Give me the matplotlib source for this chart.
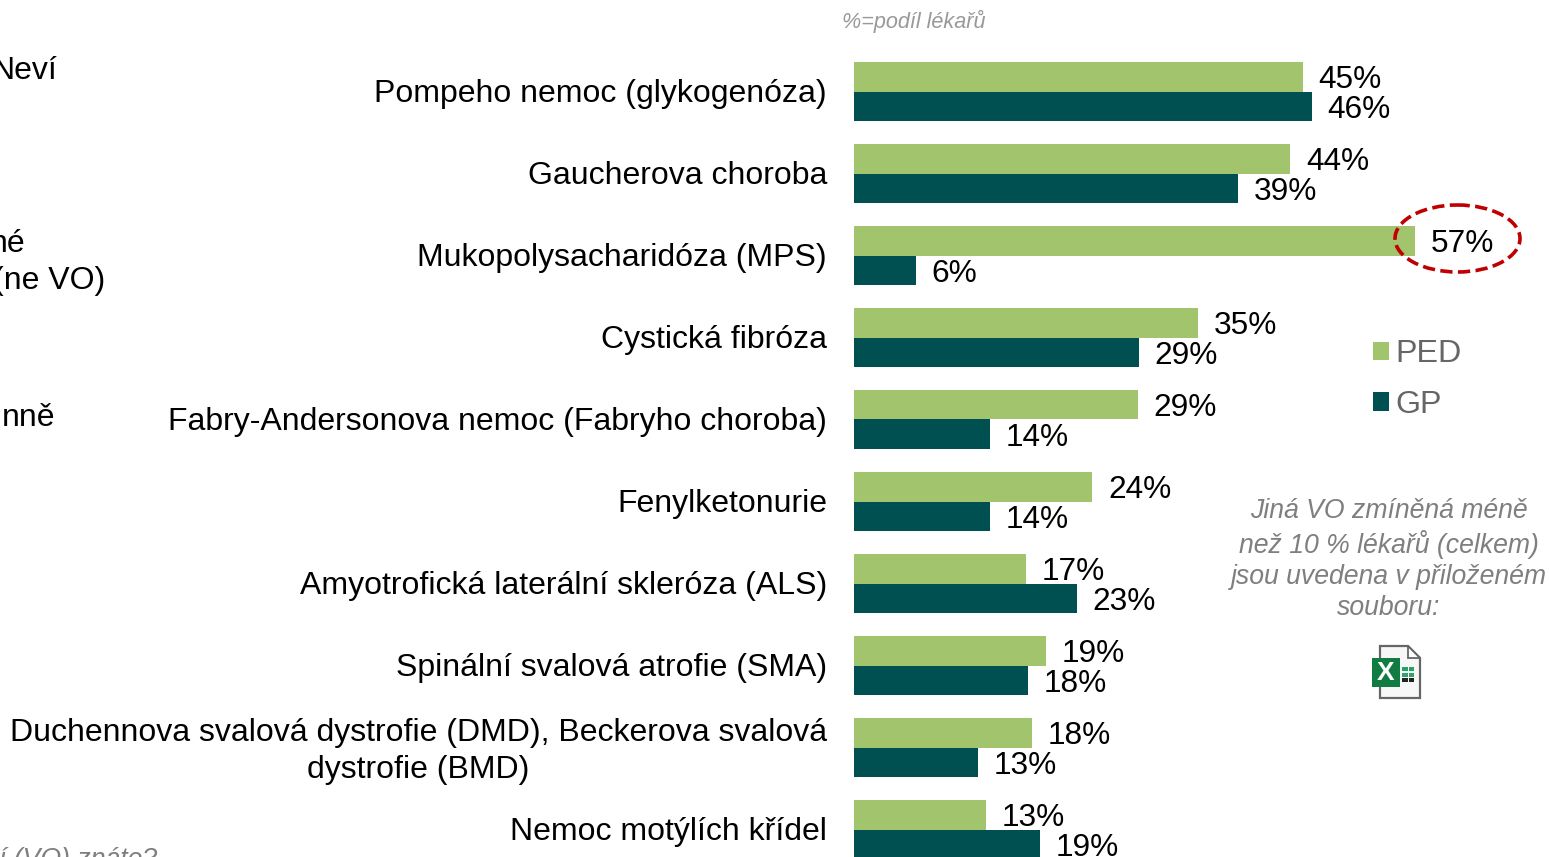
import matplotlib
matplotlib.use("Agg")
import matplotlib.pyplot as plt
from matplotlib.patches import Ellipse, Polygon, Rectangle
from matplotlib.transforms import ScaledTranslation
import numpy as np

plt.rcParams['font.family'] = ['Liberation Sans', 'DejaVu Sans']

categories = [
    "Pompeho nemoc (glykogenóza)",
    "Gaucherova choroba",
    "Mukopolysacharidóza (MPS)",
    "Cystická fibróza",
    "Fabry-Andersonova nemoc (Fabryho choroba)",
    "Fenylketonurie",
    "Amyotrofická laterální skleróza (ALS)",
    "Spinální svalová atrofie (SMA)",
    "Duchennova svalová dystrofie (DMD), Beckerova svalová\ndystrofie (BMD)",
    "Nemoc motýlích křídel",
]
ped_values = [45.6, 44.3, 57.0, 34.9, 28.8, 24.2, 17.5, 19.5, 18.1, 13.4]
gp_values = [46.5, 39.0, 6.3, 28.9, 13.8, 13.8, 22.6, 17.7, 12.6, 18.9]
ped_labels = ["45%", "44%", "57%", "35%", "29%", "24%", "17%", "19%", "18%", "13%"]
gp_labels = ["46%", "39%", "6%", "29%", "14%", "14%", "23%", "18%", "13%", "19%"]

W, H = 1549, 857
PED_C, GP_C = "#A2C46C", "#005052"
fig = plt.figure(figsize=(W / 100, H / 100), dpi=100, facecolor="white")

ax = fig.add_axes([854 / W, 0, (W - 854) / W, 1])
ax.set_xlim(0, (W - 854) / 9.85)
ax.set_ylim((H - 91.5) / 82, -91.5 / 82)
y = np.arange(len(categories))
h = 0.36
b1 = ax.barh(y - h / 2, ped_values, height=h, color=PED_C, label="PED")
b2 = ax.barh(y + h / 2, gp_values, height=h, color=GP_C, label="GP")
for bars, labs in ((b1, ped_labels), (b2, gp_labels)):
    for r, t in zip(bars, labs):
        ax.annotate(t, (r.get_width(), r.get_y() + r.get_height() / 2),
                    xytext=(11.2, -2.7), textcoords="offset points",
                    va="center", ha="left", fontsize=22.8, color="black",
                    annotation_clip=False)
ax.set_yticks(y, categories, fontsize=23.0, color="black", ha="right",
              multialignment="center", linespacing=1.3)
ax.tick_params(axis="y", length=0, pad=19.4)
ax.set_xticks([])
for s in ax.spines.values():
    s.set_visible(False)
ax.patch.set_alpha(0)
for i, lab in enumerate(ax.get_yticklabels()):
    up = 2.5 if "\n" in lab.get_text() else 1.0
    lab.set_transform(lab.get_transform() + ScaledTranslation(0, up / 100, fig.dpi_scale_trans))

leg = fig.legend(handles=[b1, b2], labels=["PED", "GP"], loc="center left",
                 bbox_to_anchor=(1373 / W, 1 - 379.5 / H), frameon=False,
                 fontsize=23.2, labelcolor="#666666", borderpad=0, borderaxespad=0,
                 handlelength=0.496, handleheight=0.496, handletextpad=0.2,
                 labelspacing=0.64)

# Pixel-space overlay for annotations
ov = fig.add_axes([0, 0, 1, 1], facecolor="none")
ov.set_xlim(0, W)
ov.set_ylim(H, 0)
ov.axis("off")

ov.add_patch(Ellipse((1457.5, 238.5), 125, 67, fill=False, ec="#C00000", lw=2.6,
                     ls=(0, (3.4, 1.5))))

ov.text(914, 21, "%=podíl lékařů", style="italic", fontsize=15.6, color="#999999",
        ha="center", va="center")
ov.text(1389, 559.5, "Jiná VO zmíněná méně\nnež 10 % lékařů (celkem)\njsou uvedena v přiloženém\nsouboru:",
        style="italic", fontsize=19.2, color="#7F7F7F", ha="center", va="center",
        multialignment="center", linespacing=1.25)

# Cropped text fragments at the left edge
for px, py, t, c, st in [(57, 71, "Neví", "black", "normal"),
                         (25, 244, "né", "black", "normal"),
                         (105, 281, "(ne VO)", "black", "normal"),
                         (55, 418, "nně", "black", "normal"),
                         (157, 860, "í (VO) znáte?", "#7F7F7F", "italic")]:
    ov.text(px, py, t, ha="right", va="center", color=c, style=st,
            fontsize=23.0 if st == "normal" else 19.2, clip_on=False)

# Excel file icon
ov.add_patch(Polygon([(1380, 646), (1408, 646), (1420, 658), (1420, 698), (1380, 698)],
                     closed=True, fc="#F7F7F7", ec="#666666", lw=1.6))
ov.add_patch(Polygon([(1408, 646), (1408, 658), (1420, 658)], closed=True,
                     fc="#FFFFFF", ec="#666666", lw=1.3))
ov.add_patch(Rectangle((1372, 658), 28, 29, fc="#107C41", ec="none"))
ov.text(1386, 673, "X", color="white", fontsize=19, fontweight="bold", ha="center", va="center")
for i, cy in enumerate((667, 672.5, 678)):
    for cx in (1402.5, 1409):
        ov.add_patch(Rectangle((cx, cy), 5.5, 4,
                               fc=["#21A366", "#33A070", "#222222"][i], ec="none"))

fig.savefig("out.png", dpi=100)
